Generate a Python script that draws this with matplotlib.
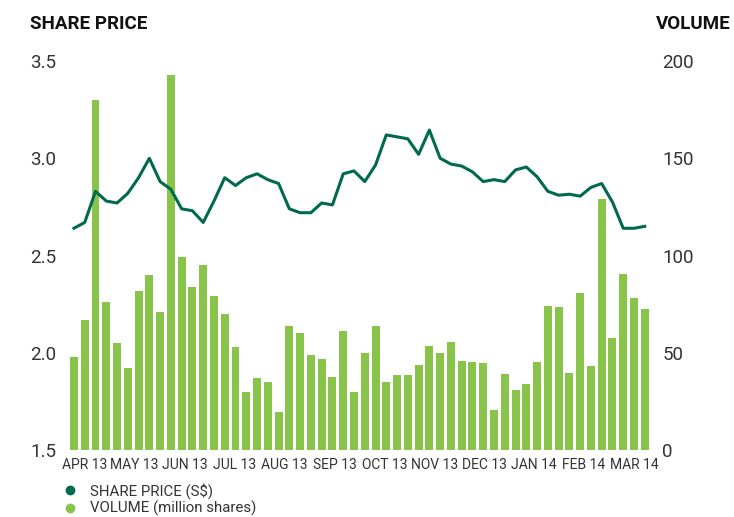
import numpy as np
import matplotlib
matplotlib.use("Agg")
import matplotlib.pyplot as plt
from matplotlib.lines import Line2D

plt.rcParams['font.family'] = ['Roboto', 'DejaVu Sans']

# weekly data, Apr 2013 - Mar 2014
volume = [48, 67, 180, 76, 55, 42, 82, 90, 71, 193,
          99, 84, 95, 79, 70, 53, 30, 37, 35, 19.5,
          64, 60, 49, 47, 37.5, 61, 30, 50, 64, 35,
          38.5, 38.5, 43.5, 53.5, 50, 55.5, 46, 45.5, 44.5, 20.5,
          39, 31, 34, 45, 74, 73.5, 39.5, 80.5, 43, 129,
          57.5, 90.5, 78, 72.5]
price = [2.64, 2.67, 2.83, 2.78, 2.77, 2.82, 2.90, 3.00, 2.88, 2.84,
         2.74, 2.73, 2.67, 2.78, 2.90, 2.86, 2.90, 2.92, 2.89, 2.87,
         2.74, 2.72, 2.72, 2.77, 2.76, 2.92, 2.935, 2.88, 2.965, 3.12,
         3.11, 3.10, 3.02, 3.145, 3.00, 2.97, 2.96, 2.93, 2.88, 2.89,
         2.88, 2.94, 2.955, 2.905, 2.83, 2.81, 2.815, 2.805, 2.85, 2.87,
         2.775, 2.64, 2.64, 2.65]
months = ["APR 13", "MAY 13", "JUN 13", "JUL 13", "AUG 13", "SEP 13",
          "OCT 13", "NOV 13", "DEC 13", "JAN 14", "FEB 14", "MAR 14"]

line_col = "#00694E"
bar_col = "#88C34A"

fig = plt.figure(figsize=(7.34, 5.17), dpi=100)
ax = fig.add_axes([0.0899, 0.1296, 0.801, 0.7524])
ax2 = ax.twinx()

x = np.arange(len(volume))
ax2.bar(x, volume, width=0.74, color=bar_col)
ax.plot(x, price, color=line_col, lw=2.2)

ax.set_zorder(ax2.get_zorder() + 1)
ax.patch.set_visible(False)

ax.set_xlim(-0.74, 53.85)
ax.set_ylim(1.5, 3.5)
ax2.set_ylim(0, 200)
ax.set_yticks([1.5, 2.0, 2.5, 3.0, 3.5])
ax.set_yticklabels(["1.5", "2.0", "2.5", "3.0", "3.5"])
ax2.set_yticks([0, 50, 100, 150, 200])

mpos = 1 + 51.0 / 11 * np.arange(12)
ax.set_xticks(mpos)
ax.set_xticklabels(months, fontsize=10, color="#333333")

for a in (ax, ax2):
    for s in a.spines.values():
        s.set_visible(False)
    a.tick_params(length=0)
ax.tick_params(axis='y', labelsize=13.5, pad=7, colors="#333333")
ax2.tick_params(axis='y', labelsize=13.5, pad=6, colors="#333333")
ax.tick_params(axis='x', pad=6)

fig.text(0.041, 0.953, "SHARE PRICE", fontsize=13.5, fontweight='bold', va='center', color="#111111")
fig.text(0.995, 0.953, "VOLUME", fontsize=13.5, fontweight='bold', va='center', ha='right', color="#111111")

handles = [Line2D([], [], ls='none', marker='o', ms=6, color=line_col),
           Line2D([], [], ls='none', marker='o', ms=6, color=bar_col)]
fig.legend(handles, ["SHARE PRICE (S$)", "VOLUME (million shares)"],
           loc='upper left', bbox_to_anchor=(0.077, 0.078), frameon=False,
           fontsize=10.8, handletextpad=0.8, labelspacing=0.15, borderaxespad=0,
           handlelength=1.0, labelcolor="#333333")

fig.savefig("out.png", dpi=100)
